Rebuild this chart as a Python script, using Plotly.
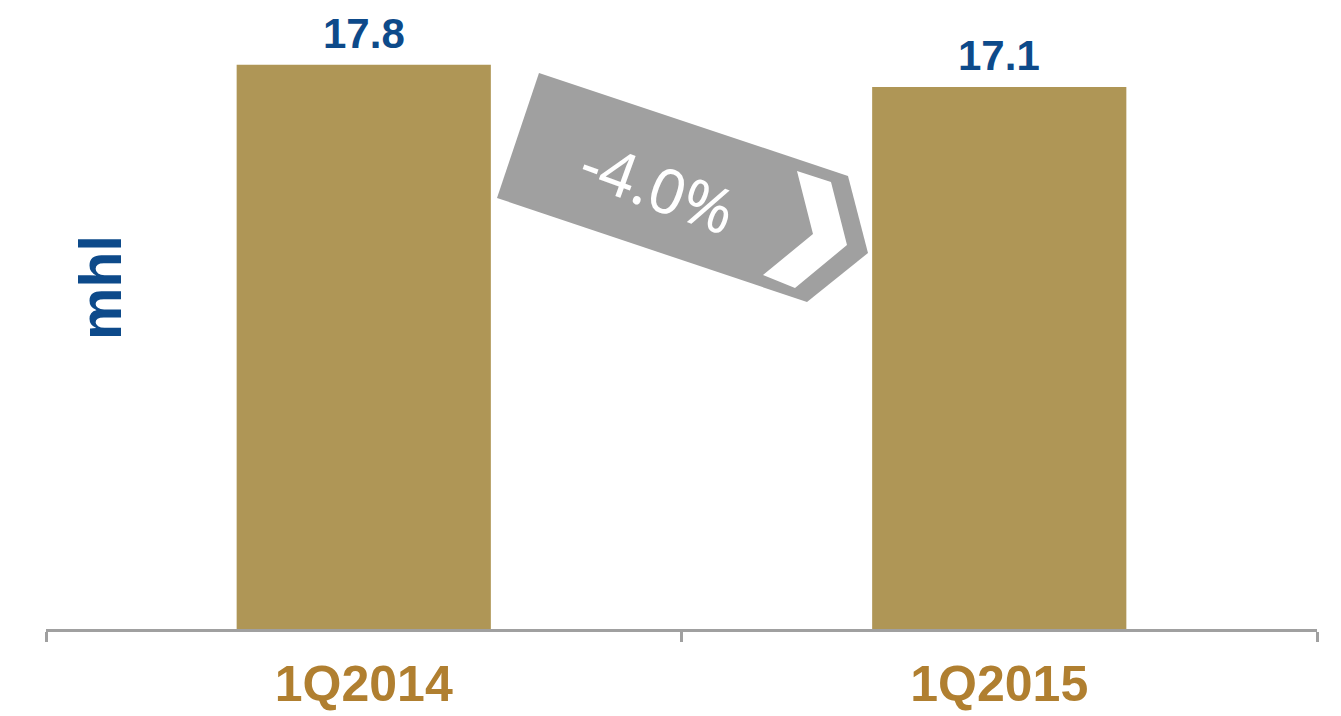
import plotly.graph_objects as go

categories = ["1Q2014", "1Q2015"]
values = [17.8, 17.1]
value_labels = ["17.8", "17.1"]
change_label = "-4.0%"
y_title = "mhl"

W, H = 1341, 716
ML, MR, MT, MB = 46, 24, 20, 87
PW, PH = W - ML - MR, H - MT - MB


def px(x, y):
    return (x - ML) / PW, (H - MB - y) / PH


def path(points):
    pts = [px(x, y) for x, y in points]
    return "M " + " L ".join(f"{a:.5f},{b:.5f}" for a, b in pts) + " Z"


arrow = [(539, 73), (848, 176), (868, 253), (807, 302), (497, 198)]
chevron = [(797, 171), (831, 182), (847, 245), (795, 288), (763, 275), (813, 234)]

fig = go.Figure()
fig.add_trace(go.Bar(
    x=categories, y=values,
    marker=dict(color="#af9656", line=dict(width=0)),
    width=0.4,
))

for c, v, t in zip(categories, values, value_labels):
    fig.add_annotation(x=c, y=v, xref="x", yref="y", text="<b>" + t + "</b>",
                       showarrow=False, xanchor="center", yanchor="bottom", yshift=6,
                       font=dict(family="Liberation Sans, Arial", size=42, color="#0d4a8a"))

fig.add_shape(type="path", xref="paper", yref="paper", path=path(arrow),
              fillcolor="#a0a0a0", line=dict(width=0), layer="above")
fig.add_shape(type="path", xref="paper", yref="paper", path=path(chevron),
              fillcolor="#ffffff", line=dict(width=0), layer="above")

cx, cy = px(658, 186)
fig.add_annotation(x=cx, y=cy, xref="paper", yref="paper", text=change_label,
                   showarrow=False, textangle=20, xanchor="center", yanchor="middle",
                   font=dict(family="Noto Sans", size=62, color="#ffffff"))

tx, ty = px(101, 288)
fig.add_annotation(x=tx, y=ty, xref="paper", yref="paper", text="<b>" + y_title + "</b>",
                   showarrow=False, textangle=-90, xanchor="center", yanchor="middle",
                   font=dict(family="Liberation Sans, Arial", size=59, color="#0d4a8a"))

fig.update_layout(
    width=W, height=H,
    margin=dict(l=ML, r=MR, t=MT, b=MB, pad=0, autoexpand=False),
    paper_bgcolor="white", plot_bgcolor="white",
    showlegend=False,
    bargap=0.6,
    xaxis=dict(
        type="category", showline=True, linecolor="#a0a0a0", linewidth=3,
        ticks="outside", tickson="boundaries", ticklen=10, tickwidth=3, tickcolor="#a0a0a0",
        tickfont=dict(family="Liberation Sans, Arial", size=50, color="#b07f30"),
        ticklabelstandoff=9, automargin=False,
        showgrid=False, zeroline=False,
    ),
    yaxis=dict(visible=False, range=[0, 609 / 31.7], showgrid=False, zeroline=False),
    font=dict(family="Liberation Sans, Arial"),
)
fig.update_xaxes(tickprefix="<b>", ticksuffix="</b>")

fig.write_html("out.html")
